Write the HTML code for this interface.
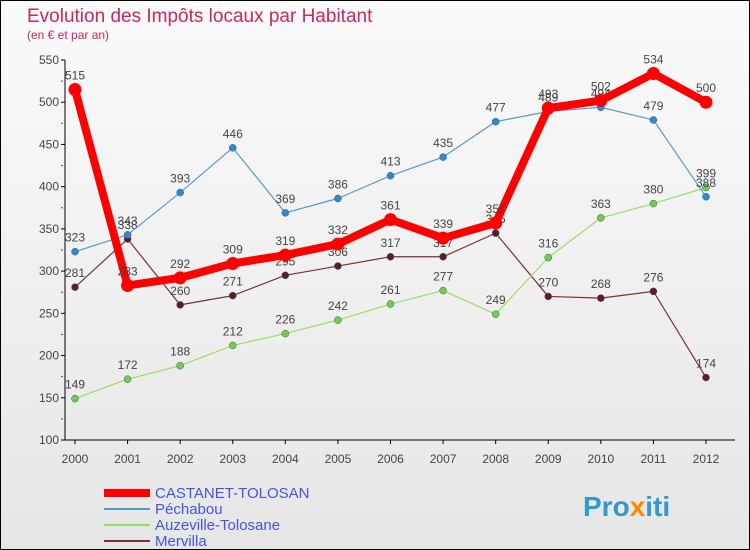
<!DOCTYPE html>
<html><head><meta charset="utf-8"><style>
body{margin:0;width:750px;height:550px;overflow:hidden;font-family:"Liberation Sans",sans-serif}
#wrap{position:absolute;left:0;top:0;width:748px;height:548px;border:1px solid #000;background:linear-gradient(#fafafa,#e6e6e6)}
</style></head><body>
<div id="wrap">
<svg id="c" width="750" height="550" style="position:absolute;left:-1px;top:-1px">
<text x="27" y="22" font-size="19" fill="#c8285a">Evolution des Impôts locaux par Habitant</text>
<text x="27" y="39" font-size="12" fill="#c8285a">(en € et par an)</text>
<g id="g"></g>
<g>
<line x1="104" y1="493" x2="150" y2="493" stroke="#f00" stroke-width="8"/>
<text x="155" y="498" font-size="15" fill="#4455dd">CASTANET-TOLOSAN</text>
<line x1="104" y1="509" x2="150" y2="509" stroke="#5599cc" stroke-width="2"/>
<text x="155" y="514" font-size="15" fill="#4455dd">Péchabou</text>
<line x1="104" y1="525" x2="150" y2="525" stroke="#99dd66" stroke-width="2"/>
<text x="155" y="530" font-size="15" fill="#4455dd">Auzeville-Tolosane</text>
<line x1="104" y1="541" x2="150" y2="541" stroke="#773333" stroke-width="2"/>
<text x="155" y="546" font-size="15" fill="#4455dd">Mervilla</text>
</g>
<text x="583" y="516" font-size="28" font-weight="bold" fill="#3399cc">Pro<tspan fill="#ff8800">x</tspan>iti</text>
</svg></div>
<script>
const years=[2000,2001,2002,2003,2004,2005,2006,2007,2008,2009,2010,2011,2012];
const yTicks=[100,150,200,250,300,350,400,450,500,550];
const castanet=[515,283,292,309,319,332,361,339,357,493,502,534,500];
const pechabou=[323,343,393,446,369,386,413,435,477,489,494,479,388];
const auzeville=[149,172,188,212,226,242,261,277,249,316,363,380,399];
const mervilla=[281,338,260,271,295,306,317,317,345,270,268,276,174];
const NS="http://www.w3.org/2000/svg",g=document.getElementById('g');
const xs=i=>75+i*(706-75)/(years.length-1);
const ys=v=>440-(v-100)*380/450;
function el(t,a,p){const e=document.createElementNS(NS,t);for(const k in a)e.setAttribute(k,a[k]);(p||g).appendChild(e);return e;}
let ax=el('line',{x1:65,y1:60,x2:65,y2:440,stroke:'#000'});

let bx=el('line',{x1:65,y1:440,x2:735,y2:440,stroke:'#000'});

yTicks.forEach(v=>{let y=ys(v);el('line',{x1:61,y1:y,x2:65,y2:y,stroke:'#000'});
let t=el('text',{x:59,y:y+4,'font-size':12,fill:'#444','text-anchor':'end'});t.textContent=v;

if(v<550){let m=ys(v+25);el('line',{x1:61,y1:m,x2:63,y2:m,stroke:'#f00'});}});
years.forEach((yr,i)=>{let x=xs(i);el('line',{x1:x,y1:440,x2:x,y2:444,stroke:'#000'});
let t=el('text',{x:x,y:463,'font-size':12,fill:'#444','text-anchor':'middle'});t.textContent=yr;
});
function series(d,col,w,r,name,dot){
let p=el('polyline',{points:d.map((v,i)=>xs(i)+','+ys(v)).join(' '),fill:'none',stroke:col,'stroke-width':w,'stroke-linejoin':'round'});

d.forEach((v,i)=>{let c=el('circle',{cx:xs(i),cy:ys(v),r:r,fill:dot,stroke:w>2?'none':'#2a5a8a','stroke-width':0.5});

let t=el('text',{x:xs(i),y:ys(v)-10,'font-size':12,fill:'#444','text-anchor':'middle'});t.textContent=v;
});}
series(mervilla,'#773333',1.2,3.5,'mervilla','#661a1a');
series(auzeville,'#99dd66',1.2,3.5,'auzeville','#77cc44');
series(pechabou,'#5599cc',1.2,3.5,'pechabou','#3388cc');
series(castanet,'#f00',8,6.5,'castanet','#f00');
</script></body></html>
